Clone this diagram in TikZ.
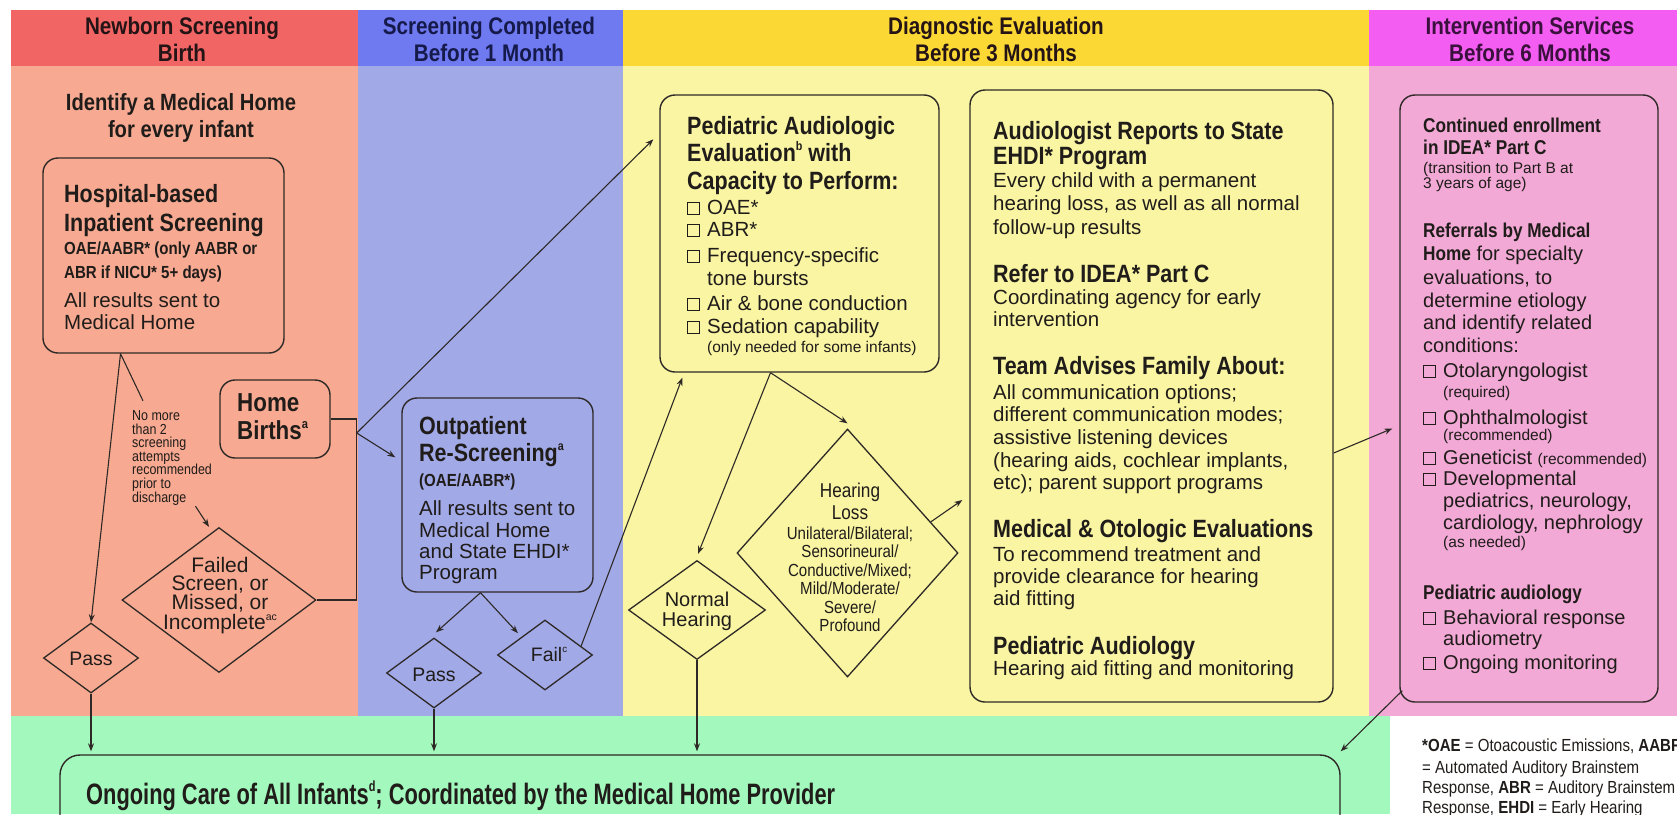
\documentclass[tikz,border=0pt]{standalone}
\usepackage{fontspec}
\usepackage{graphicx}
\setmainfont{Liberation Sans}
\newfontfamily\cnd{Liberation Sans}[FakeStretch=0.86]
\newfontfamily\cndx{Liberation Sans}[FakeStretch=0.74]
\usetikzlibrary{shapes.geometric,arrows.meta,calc}
\definecolor{redH}{HTML}{F26565}
\definecolor{redB}{HTML}{F7AA91}
\definecolor{bluH}{HTML}{6F79F0}
\definecolor{bluB}{HTML}{A1A9E7}
\definecolor{yelH}{HTML}{FCD835}
\definecolor{yelB}{HTML}{F9F5A3}
\definecolor{magH}{HTML}{F45DF1}
\definecolor{pnkB}{HTML}{F2A9D6}
\definecolor{grnB}{HTML}{A3F9BD}
\definecolor{ln}{HTML}{2E2926}
\definecolor{txt}{HTML}{201C1A}
\definecolor{hdr}{HTML}{241416}
\definecolor{hdb}{HTML}{151A4A}
\definecolor{hdm}{HTML}{3A103C}
\newcommand\fsz[2]{\fontsize{#1}{#2}\selectfont}
\newcommand\HB{\cnd\bfseries\fsz{25}{27}}
\newcommand\CB{\cnd\bfseries\fsz{20}{22}}
\newcommand\SB{\cnd\bfseries\fsz{17.5}{20}}
\newcommand\SM{\fsz{15.5}{17}}
\newcommand\SC{\cnd\fsz{17.5}{19}}
\newcommand\BD{\fsz{20.5}{22}}
\newcommand\sps[1]{\raisebox{0.42em}{\scalebox{0.5}{#1}}}
\newcommand\cbx{\makebox[20pt][l]{\fboxsep=0pt\fboxrule=1pt\fbox{\rule{0pt}{11pt}\hspace{11pt}}}}
\newcommand\ind{\hspace*{20pt}}
\begin{document}
\begin{tikzpicture}[x=1pt,y=-1pt,
  tl/.style={inner sep=0pt, anchor=base west, text=txt, font=\BD},
  tc/.style={inner sep=0pt, anchor=base, align=center, text=txt},
  hd/.style={inner sep=0pt, anchor=base, align=center, font=\cnd\bfseries\fsz{24}{27}},
  box/.style={draw=ln, line width=1.4pt, rounded corners=15pt, inner sep=0pt},
  dia/.style={diamond, draw=ln, line width=1.3pt, inner sep=0pt},
  cn/.style={draw=ln, line width=1.1pt},
  arr/.style={cn, -{Stealth[length=8pt,width=6pt]}}]
\useasboundingbox (0,0) rectangle (1677,814);
\clip (0,0) rectangle (1677,814);
\fill[white] (0,0) rectangle (1677,814);
% column bodies
\fill[redB] (11,66) rectangle (358,716);
\fill[bluB] (358,66) rectangle (623,716);
\fill[yelB] (623,66) rectangle (1369,716);
\fill[pnkB] (1369,66) rectangle (1677,716);
\fill[grnB] (11,716) rectangle (1390,814);
% headers
\fill[redH] (11,10) rectangle (358,66);
\fill[bluH] (358,10) rectangle (623,66);
\fill[yelH] (623,10) rectangle (1369,66);
\fill[magH] (1369,10) rectangle (1677,66);
\node[hd, text=hdr] (hR) at (182,61) {Newborn Screening\\Birth};
\node[hd, text=hdb] (hB) at (489,61) {Screening Completed\\Before 1 Month};
\node[hd, text=hdr] (hY) at (996,61) {Diagnostic Evaluation\\Before 3 Months};
\node[hd, text=hdm] (hM) at (1530,61) {Intervention Services\\Before 6 Months};

% ---------- column 1
\node[tc, font=\cnd\bfseries\fsz{23.5}{27}] (idm) at (181,137) {Identify a Medical Home\\for every infant};
\node[box, minimum width=241pt, minimum height=195pt] (hosp) at (163.5,255.5) {};
\foreach \yy/\lbl [count=\i] in {202/{\HB Hospital-based}, 231/{\HB Inpatient Screening},
  254/{\SB OAE/AABR* (only AABR or}, 278/{\SB ABR if NICU* 5+ days)},
  307/{All results sent to}, 329/{Medical Home}}
  \node[tl] (ho\i) at (64,\yy) {\lbl};
\node[box, minimum width=110pt, minimum height=78pt] (home) at (275,419) {};
\node[tl, font=\cnd\bfseries\fsz{26}{28}] (hm1) at (237,411) {Home};
\node[tl, font=\cnd\bfseries\fsz{26}{28}] (hm2) at (237,439) {Births\sps{a}};
\foreach \yy/\lbl [count=\i] in {420/No more, 434/than 2, 447/screening, 461/attempts, 474/recommended, 488/prior to, 502/discharge}
  \node[tl, font=\cnd\fsz{14.5}{14}] (nt\i) at (132,\yy) {\lbl};
\node[dia, minimum width=194pt, minimum height=145pt] (fail1) at (219,600) {};
\foreach \yy/\lbl [count=\i] in {572/Failed, 590/{Screen, or}, 609/{Missed, or}, 629/{Incomplete\sps{ac}}}
  \node[tc, font=\fsz{21}{19}] (ft\i) at (220,\yy) {\lbl};
\node[dia, minimum width=95pt, minimum height=70pt] (pass1) at (91,658) {};
\node[tc, font=\fsz{19.5}{20}] (p1t) at (91,665) {Pass};

% ---------- column 2
\node[box, minimum width=191pt, minimum height=194pt] (outp) at (497.5,495) {};
\foreach \yy/\lbl [count=\i] in {434/{\HB Outpatient}, 461/{\HB Re-Screening\sps{a}},
  486/{\SB (OAE/AABR*)}, 515/{All results sent to}, 537/{Medical Home}, 558/{and State EHDI*}, 579/{Program}}
  \node[tl] (ot\i) at (419,\yy) {\lbl};
\node[dia, minimum width=95pt, minimum height=70pt] (pass2) at (434,673) {};
\node[tc, font=\fsz{19.5}{20}] (p2t) at (434,681) {Pass};
\node[dia, minimum width=95pt, minimum height=70pt] (fail2) at (545,655) {};
\node[tc, font=\fsz{19.5}{20}] (f2t) at (549,661) {Fail\sps{c}};

% ---------- column 3
\node[box, minimum width=279pt, minimum height=277pt] (ped) at (799.5,233.5) {};
\foreach \yy/\lbl [count=\i] in {134/{\HB Pediatric Audiologic}, 161/{\HB Evaluation\sps{b} with},
  189/{\HB Capacity to Perform:}, 214/{\cbx OAE*}, 236/{\cbx ABR*}, 262/{\cbx Frequency-specific},
  285/{\ind tone bursts}, 310/{\cbx Air \& bone conduction}, 333/{\cbx Sedation capability},
  352/{\ind{\SM (only needed for some infants)}}}
  \node[tl] (pt\i) at (687,\yy) {\lbl};
\node[dia, minimum width=137pt, minimum height=99pt] (normal) at (697,610) {};
\node[tc, font=\fsz{20}{20}] (nh1) at (697,626) {Normal\\Hearing};
\node[dia, minimum width=221pt, minimum height=248pt] (hl) at (847.5,553) {};
\foreach \yy/\lbl [count=\i] in {497/{\fsz{20}{20}Hearing}, 519/{\fsz{20}{20}Loss}, 539/{Unilateral/Bilateral;},
  557/{Sensorineural/}, 576/{Conductive/Mixed;}, 594/{Mild/Moderate/}, 613/{Severe/}, 631/{Profound}}
  \node[tc, font=\cnd\fsz{17.5}{18}] (hlt\i) at (850,\yy) {\lbl};
\node[box, minimum width=363pt, minimum height=612pt] (aud) at (1151.5,396) {};
\foreach \yy/\lbl [count=\i] in {139/{\HB Audiologist Reports to State}, 164/{\HB EHDI* Program},
  187/{Every child with a permanent}, 210/{hearing loss, as well as all normal}, 234/{follow-up results},
  282/{\HB Refer to IDEA* Part C}, 304/{Coordinating agency for early}, 326/{intervention},
  374/{\HB Team Advises Family About:}, 399/{All communication options;}, 421/{different communication modes;},
  444/{assistive listening devices}, 467/{(hearing aids, cochlear implants,}, 489/{etc); parent support programs},
  537/{\HB Medical \& Otologic Evaluations}, 561/{To recommend treatment and}, 583/{provide clearance for hearing},
  605/{aid fitting}, 654/{\HB Pediatric Audiology}, 675/{Hearing aid fitting and monitoring}}
  \node[tl] (au\i) at (993,\yy) {\lbl};

% ---------- column 4
\node[box, minimum width=258pt, minimum height=607pt] (pink) at (1529,398.5) {};
\foreach \yy/\lbl [count=\i] in {132/{\CB Continued enrollment}, 154/{\CB in IDEA* Part C},
  173/{\SM (transition to Part B at}, 188/{\SM 3 years of age)},
  237/{\CB Referrals by Medical}, 260/{{\CB Home} for specialty}, 284/{evaluations, to},
  307/{determine etiology}, 329/{and identify related}, 352/{conditions:},
  377/{\cbx Otolaryngologist}, 397/{\ind{\SM (required)}}, 424/{\cbx Ophthalmologist},
  440/{\ind{\SM (recommended)}}, 464/{\cbx Geneticist {\SM (recommended)}}, 485/{\cbx Developmental},
  507/{\ind pediatrics, neurology,}, 529/{\ind cardiology, nephrology}, 547/{\ind{\SM (as needed)}},
  599/{\CB Pediatric audiology}, 624/{\cbx Behavioral response}, 645/{\ind audiometry},
  669/{\cbx Ongoing monitoring}}
  \node[tl, font=\fsz{20}{22}] (pk\i) at (1423,\yy) {\lbl};

% ---------- bottom
\node[box, rounded corners=20pt, minimum width=1280pt, minimum height=125pt] (ong) at (700,817.5) {};
\node[tl, font=\cndx\bfseries\fsz{29.5}{30}] (ongt) at (86,804) {Ongoing Care of All Infants\sps{d}; Coordinated by the Medical Home Provider};
\foreach \yy/\lbl [count=\i] in {751/{{\bfseries *OAE} = Otoacoustic Emissions, {\bfseries AABR}},
  773/{= Automated Auditory Brainstem}, 793/{Response, {\bfseries ABR} = Auditory Brainstem},
  813/{Response, {\bfseries EHDI} = Early Hearing}}
  \node[tl, font=\SC] (fn\i) at (1422,\yy) {\lbl};

% ---------- connectors
\coordinate (hb) at ([xshift=-43pt]hosp.south);
\draw[arr] (hb) -- (pass1.north);
\draw[cn] (hb) -- ($(nt1.north west)+(11,-9)$);
\draw[arr] ($(nt7.south east)+(9,1)$) -- ([xshift=-10pt]fail1.north);
\coordinate (jt) at ($(home.east)+(26,0)$);
\coordinate (jb) at ($(jt)+(0,14)$);
\draw[cn] (home.east) -- (jt) -- (jt |- fail1.east) -- (fail1.east);
\draw[arr] (jb) -- ($(ped.north west)+(-6,45)$);
\draw[arr] (jb) -- ($(outp.north west)+(-6,60)$);
\coordinate (ob) at ($(outp.south)+(-17,0)$);
\draw[arr] (ob) -- ($(pass2.north)+(2,-5)$);
\draw[arr] (ob) -- ($(fail2.north west)+(-3,-4)$);
\draw[arr] ($(fail2.north)!0.75!(fail2.east)$) -- ($(ped.south west)+(23,5)$);
\coordinate (pb) at ($(ped.south)+(-29,0)$);
\draw[arr] (pb) -- ($(normal.north)+(1,-6)$);
\draw[arr] (pb) -- ($(hl.north)+(0,-5)$);
\draw[arr] ($(hl.north)!0.75!(hl.east)$) -- ($(aud.west)+(-7,104)$);
\draw[arr] ($(aud.east)+(0,57)$) -- ($(pink.west)+(-7,30)$);
\draw[arr] ($(pink.south west)+(3,-12)$) -- ($(ong.north east)+(0,-3)$);
\draw[arr] (pass1.south) -- ($(pass1.south |- ong.north)+(0,-3)$);
\draw[arr] (pass2.south) -- ($(pass2.south |- ong.north)+(0,-3)$);
\draw[arr] (normal.south) -- ($(normal.south |- ong.north)+(0,-3)$);
\end{tikzpicture}
\end{document}
